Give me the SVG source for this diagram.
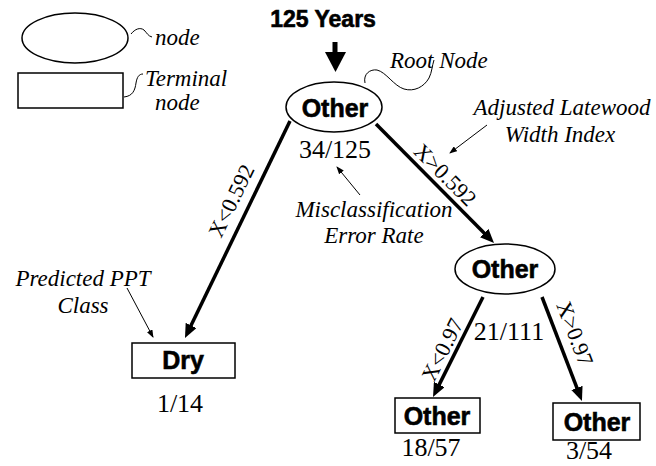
<svg xmlns="http://www.w3.org/2000/svg" width="656" height="466" viewBox="0 0 656 466">
<defs>
<marker id="big" viewBox="0 0 14 12" refX="8" refY="6" markerWidth="14" markerHeight="12" markerUnits="userSpaceOnUse" orient="auto"><path d="M0,0 L14,6 L0,12 Z" fill="#000"/></marker>
<marker id="small" viewBox="0 0 8 6" refX="7" refY="3" markerWidth="8" markerHeight="6" markerUnits="userSpaceOnUse" orient="auto"><path d="M0,0 L8,3 L0,6 Z" fill="#000"/></marker>
</defs>
<style>
.shape{fill:#fff;stroke:#000;stroke-width:1.5}
.bold{font-family:"Liberation Sans",Arial,sans-serif;font-weight:bold;fill:#000;stroke:#000;stroke-width:0.6}
.num{font-family:"Liberation Serif","Times New Roman",serif;font-size:26px;fill:#000}
.lab{font-family:"Liberation Serif","Times New Roman",serif;font-size:22px;fill:#000}
.it{font-family:"Liberation Serif","Times New Roman",serif;font-style:italic;font-size:23px;fill:#000}
.thick{stroke:#000;stroke-width:3.5;fill:none;marker-end:url(#big)}
.thin{stroke:#000;stroke-width:1;fill:none;marker-end:url(#small)}
.curl{stroke:#000;stroke-width:1;fill:none}
</style>
<rect width="656" height="466" fill="#fff"/>

<g id="legend">
<ellipse class="shape" cx="75" cy="38" rx="53" ry="25"/>
<rect class="shape" x="18" y="73" width="105" height="35"/>
<path class="curl" d="M131,34 C135,29 140,27 144,30 C147,33 148,36 152,37"/>
<path class="curl" d="M124,97 C133,96 135,90 136,83 C137,77 139,74 143,74"/>
<text class="it" x="155" y="45">node</text>
<text class="it" x="145" y="86" font-size="21">Terminal</text>
<text class="it" x="155" y="110" font-size="21">node</text>
</g>

<g id="title">
<text class="bold" x="323" y="27" font-size="23" text-anchor="middle">125 Years</text>
<rect x="332.5" y="42" width="5" height="12" fill="#000"/>
<path d="M325,52 L346,52 L335.5,72 Z" fill="#000"/>
</g>

<g id="root">
<ellipse class="shape" cx="334" cy="107" rx="48" ry="25"/>
<text class="bold" x="335" y="117" font-size="25" text-anchor="middle">Other</text>
<text class="num" x="335" y="158" text-anchor="middle">34/125</text>
</g>

<g id="node2">
<ellipse class="shape" cx="505" cy="269" rx="50" ry="25"/>
<text class="bold" x="505" y="278" font-size="25" text-anchor="middle">Other</text>
<text class="num" x="509" y="340" text-anchor="middle">21/111</text>
</g>

<g id="dry">
<rect class="shape" x="132" y="343" width="103" height="35"/>
<text class="bold" x="183" y="369" font-size="25" text-anchor="middle">Dry</text>
<text class="num" x="180" y="412" text-anchor="middle">1/14</text>
</g>

<g id="leaf1">
<rect class="shape" x="395" y="398" width="85" height="35"/>
<text class="bold" x="437" y="425" font-size="25" text-anchor="middle">Other</text>
<text class="num" x="431" y="456" text-anchor="middle">18/57</text>
</g>

<g id="leaf2">
<rect class="shape" x="553" y="403" width="87" height="37"/>
<text class="bold" x="597" y="431" font-size="25" text-anchor="middle">Other</text>
<text class="num" x="589" y="459" text-anchor="middle">3/54</text>
</g>

<g id="connectors">
<line class="thick" x1="290" y1="121" x2="187.6" y2="332.6"/>
<line class="thick" x1="376" y1="124" x2="489.8" y2="238.7"/>
<line class="thick" x1="483" y1="297" x2="435.7" y2="391.6"/>
<line class="thick" x1="542" y1="297" x2="579.8" y2="395.4"/>
<text class="lab" text-anchor="middle" transform="translate(238,204) rotate(-64.2)">X&lt;0.592</text>
<text class="lab" text-anchor="middle" transform="translate(440,180) rotate(45.2)">X&gt;0.592</text>
<text class="lab" text-anchor="middle" font-size="21" transform="translate(449,353) rotate(-63.4)">X&lt;0.97</text>
<text class="lab" text-anchor="middle" font-size="21" transform="translate(568,336) rotate(69)">X&gt;0.97</text>
</g>

<g id="annotations">
<path class="curl" d="M365,83 C363,74 370,69 377,70 C386,72 394,86 404,89 C414,92 424,87 429,78 C432,72 432,66 434,60"/>
<text class="it" x="390" y="68">Root Node</text>
<text class="it" x="562" y="115" text-anchor="middle">Adjusted Latewood</text>
<text class="it" x="560" y="142" text-anchor="middle">Width Index</text>
<line class="thin" x1="487" y1="125" x2="450" y2="153"/>
<text class="it" x="374" y="217" text-anchor="middle">Misclassification</text>
<text class="it" x="374" y="243" text-anchor="middle">Error Rate</text>
<line class="thin" x1="360" y1="195" x2="337" y2="167"/>
<text class="it" x="83" y="286" text-anchor="middle">Predicted PPT</text>
<text class="it" x="83" y="313" text-anchor="middle">Class</text>
<line class="thin" x1="127" y1="288" x2="153" y2="337"/>
</g>
</svg>
